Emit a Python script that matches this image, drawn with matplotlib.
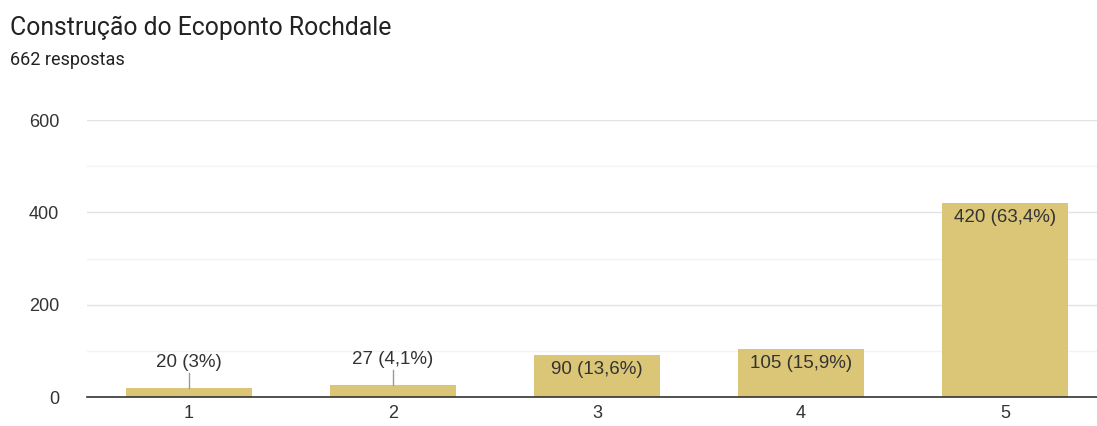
import numpy as np
import matplotlib.pyplot as plt

plt.rcParams['font.family'] = ['Roboto', 'DejaVu Sans']

categories = ["1", "2", "3", "4", "5"]
counts = [20, 27, 90, 105, 420]
pct_labels = ["3%", "4,1%", "13,6%", "15,9%", "63,4%"]
total = 662

title = "Construção do Ecoponto Rochdale"
subtitle = f"{total} respostas"

bar_color = "#dbc677"
text_color = "#333333"
chart_font = ["Liberation Sans", "DejaVu Sans"]

fig = plt.figure(figsize=(10.97, 4.26), dpi=100)
ax = fig.add_axes([87 / 1097, 1 - 397 / 426, 1020 / 1097, 277 / 426])

x = np.arange(len(categories))
bars = ax.bar(x, counts, width=0.615, color=bar_color, zorder=3)

ax.set_xlim(-0.5, len(categories) - 0.5)
ax.set_ylim(0, 600)
ax.set_yticks([0, 200, 400, 600])
ax.set_yticks([100, 300, 500], minor=True)
ax.set_xticks(x)
ax.set_xticklabels(categories)

ax.grid(axis="y", which="major", color="#e3e3e3", linewidth=1, zorder=0)
ax.grid(axis="y", which="minor", color="#f3f3f3", linewidth=1, zorder=0)
for s in ["top", "right", "left"]:
    ax.spines[s].set_visible(False)
ax.spines["bottom"].set_color("#333333")
ax.spines["bottom"].set_linewidth(1.2)
ax.spines["bottom"].set_zorder(4)

ax.tick_params(axis="both", which="both", length=0, labelsize=13, colors=text_color)
ax.tick_params(axis="y", pad=20)
ax.tick_params(axis="x", pad=6)
for lbl in ax.get_xticklabels() + ax.get_yticklabels():
    lbl.set_family(chart_font)

# value labels: inside the bar when it is tall enough, else above with a leader line
for xi, c, p in zip(x, counts, pct_labels):
    label = f"{c} ({p})"
    if c >= 60:
        ax.text(xi, c - 13, label, ha="center", va="top", fontsize=13.5,
                color=text_color, family=chart_font, zorder=5)
    else:
        top = c + 32
        ax.plot([xi, xi], [c, top], color="#999999", linewidth=1, zorder=4)
        ax.text(xi, top + 4, label, ha="center", va="bottom", fontsize=13.5,
                color=text_color, family=chart_font, zorder=5)

fig.text(10 / 1097, 1 - 28 / 426, title, fontsize=17.8, color="#222222", va="center", ha="left")
fig.text(10 / 1097, 1 - 60 / 426, subtitle, fontsize=13, color="#222222", va="center", ha="left")

fig.savefig("out.png", dpi=100)
